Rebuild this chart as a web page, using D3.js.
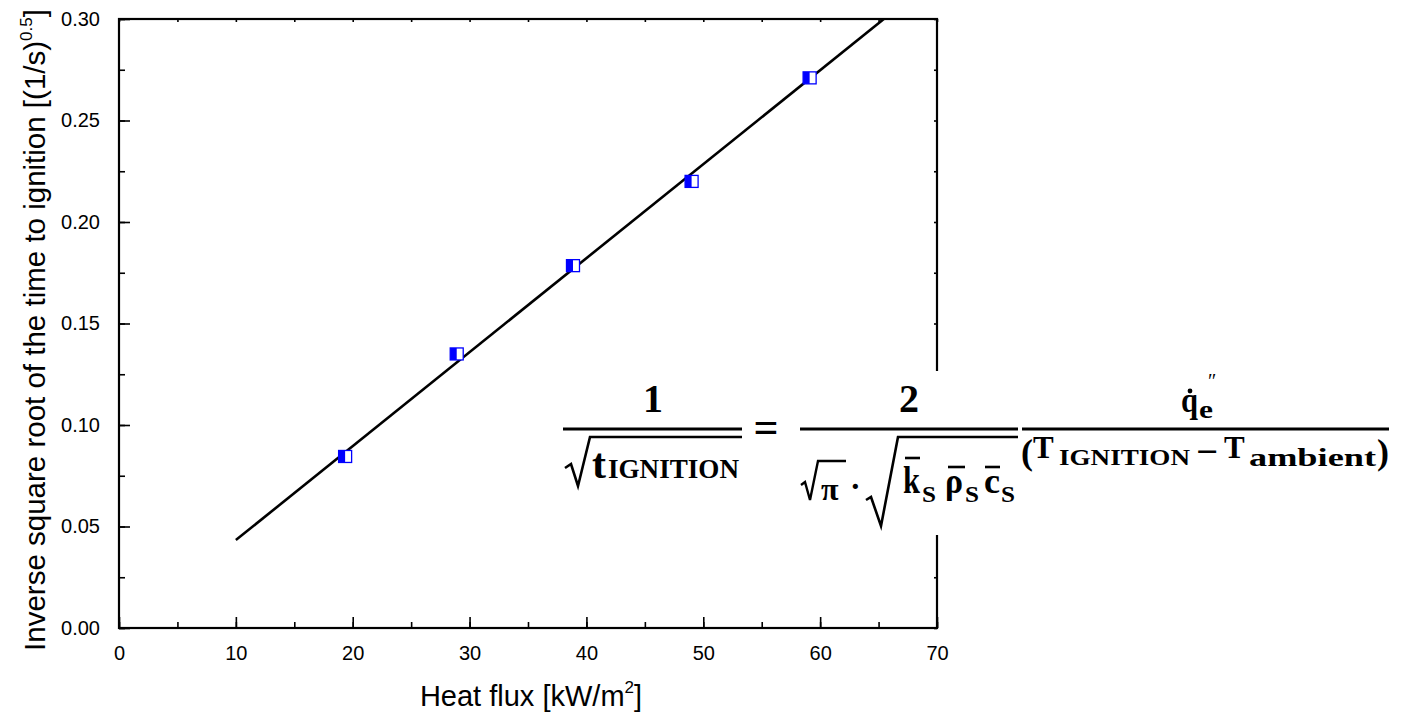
<!DOCTYPE html>
<html><head><meta charset="utf-8">
<script src="https://cdn.jsdelivr.net/npm/d3@7"></script>
<style>
html,body{margin:0;padding:0;background:#fff;}
svg{display:block;}
</style></head>
<body>
<svg id="chart" width="1402" height="716"></svg>
<script>
// ---- data ----
const heatFlux = [19.35, 28.9, 38.85, 49.0, 59.1];
const invSqrtTig = [0.0845, 0.1350, 0.1785, 0.2200, 0.2710];
const fitX = [10, 65.45];
const fitY = [0.0433, 0.300];
const xTickValues = [0, 10, 20, 30, 40, 50, 60, 70];
const yTickValues = [0, 0.05, 0.10, 0.15, 0.20, 0.25, 0.30];
const xMinorValues = [0,5,10,15,20,25,30,35,40,45,50,55,60,65,70];
const yMinorValues = [0,0.025,0.05,0.075,0.1,0.125,0.15,0.175,0.2,0.225,0.25,0.275,0.3];
const xTitle = "Heat flux [kW/m";
const yTitle = "Inverse square root of the time to ignition [(1/s)";

const svg = d3.select("#chart");
const L = 119, R = 937, T = 19, B = 628;
const x = d3.scaleLinear().domain([0, 70]).range([L, R]);
const y = d3.scaleLinear().domain([0, 0.30]).range([B, T]);
const font = "'Liberation Sans', Arial, sans-serif";

// fit line
svg.append("path")
  .datum(fitX.map((v, i) => [v, fitY[i]]))
  .attr("d", d3.line().x(d => x(d[0])).y(d => y(d[1])))
  .attr("fill", "none").attr("stroke", "#000").attr("stroke-width", 2.6);

// markers
const mk = svg.append("g");
heatFlux.forEach((v, i) => {
  const cx = x(v), cy = y(invSqrtTig[i]);
  mk.append("rect").attr("x", cx - 6.5).attr("y", cy - 6).attr("width", 13).attr("height", 12)
    .attr("fill", "#fff").attr("stroke", "#0000ff").attr("stroke-width", 1.3);
  mk.append("rect").attr("x", cx - 6.5).attr("y", cy - 6).attr("width", 6.5).attr("height", 12)
    .attr("fill", "#0000ff");
});

// axes
function styleAxis(g){ g.select(".domain").remove(); g.selectAll("line").attr("stroke","#000").attr("stroke-width",1.6); }
svg.append("g").attr("transform", `translate(0,${B})`)
  .call(d3.axisBottom(x).tickValues(xMinorValues).tickSize(-6).tickFormat(""))
  .call(styleAxis);
svg.append("g").attr("transform", `translate(0,${B})`)
  .call(d3.axisBottom(x).tickValues(xTickValues).tickSize(-11).tickPadding(18).tickFormat(d3.format("d")))
  .call(styleAxis)
  .call(g => g.selectAll("text").attr("font-family", font).attr("font-size", 20).attr("fill","#000"));
svg.append("g").attr("transform", `translate(${L},0)`)
  .call(d3.axisLeft(y).tickValues(yMinorValues).tickSize(-6).tickFormat(""))
  .call(styleAxis);
svg.append("g").attr("transform", `translate(${L},0)`)
  .call(d3.axisLeft(y).tickValues(yTickValues).tickSize(-11).tickPadding(19).tickFormat(d3.format(".2f")))
  .call(styleAxis)
  .call(g => g.selectAll("text").attr("font-family", font).attr("font-size", 20).attr("fill","#000"));
svg.append("g").attr("transform", `translate(0,${T})`)
  .call(d3.axisTop(x).tickValues(xMinorValues).tickSize(-3).tickFormat(""))
  .call(styleAxis);
svg.append("g").attr("transform", `translate(${R},0)`)
  .call(d3.axisRight(y).tickValues(yMinorValues).tickSize(-3).tickFormat(""))
  .call(styleAxis);
svg.append("rect").attr("x", L).attr("y", T).attr("width", R - L).attr("height", B - T)
  .attr("fill", "none").attr("stroke", "#000").attr("stroke-width", 2.2);

// titles
const xt = svg.append("text").attr("x", 531).attr("y", 706).attr("text-anchor", "middle")
  .attr("font-family", font).attr("font-size", 29).attr("fill", "#000");
xt.append("tspan").text(xTitle);
xt.append("tspan").attr("font-size", 17).attr("dy", -13).text("2");
xt.append("tspan").attr("dy", 13).text("]");

const yt = svg.append("text").attr("transform", "translate(45,330) rotate(-90)").attr("text-anchor", "middle")
  .attr("font-family", font).attr("font-size", 29.5).attr("fill", "#000");
yt.append("tspan").text(yTitle);
yt.append("tspan").attr("font-size", 17).attr("dy", -13).text("0.5");
yt.append("tspan").attr("dy", 13).text("]");

// ---- formula overlay ----
const fm = svg.append("g");
fm.append("rect").attr("x", 556).attr("y", 371).attr("width", 846).attr("height", 164).attr("fill", "#fff");
const ff = "'Liberation Serif', 'Times New Roman', serif";
function t(txt, xx, yy, size, opts = {}) {
  const e = fm.append("text").attr("x", xx).attr("y", yy).attr("font-family", ff)
    .attr("font-weight", opts.normal ? "normal" : "bold").attr("font-size", size).attr("fill", "#000").text(txt);
  if (opts.anchor) e.attr("text-anchor", opts.anchor);
  if (opts.len) e.attr("textLength", opts.len).attr("lengthAdjust", "spacingAndGlyphs");
  return e;
}
function ln(d, w) { fm.append("path").attr("d", d).attr("fill", "none").attr("stroke", "#000").attr("stroke-width", w || 2.6); }

// fraction 1
t("1", 653, 412, 40, {anchor: "middle"});
ln("M563,429 L742,429", 3.2);
ln("M565,468 L571,464 L578,486 L590,437 L742,437", 2.6);
t("t", 592, 478, 42);
t("IGNITION", 608, 478, 27, {len: 131});
// equals
t("=", 766, 442, 44, {anchor: "middle"});
// fraction 2
t("2", 909, 412, 40, {anchor: "middle"});
ln("M800,429 L1018,429", 3.2);
ln("M801,485 L805,482 L810,500 L818,461 L846,461", 2.4);
t("π", 821, 500, 32);
t("·", 850, 497, 32);
ln("M866,500 L871,497 L881,526 L898,437 L1018,437", 2.6);
t("k", 903, 493, 38, {len: 17});
ln("M905,458 L920,458", 2.6);
t("S", 922, 502, 24, {len: 14});
t("ρ", 945, 493, 36, {len: 18});
ln("M948,467 L965,467", 2.6);
t("S", 965, 502, 24, {len: 14});
t("c", 984, 493, 36, {len: 16});
ln("M985,467 L1000,467", 2.6);
t("S", 1001, 502, 24, {len: 14});
// fraction 3
t("q", 1181, 412, 36, {len: 17});
fm.append("circle").attr("cx", 1190).attr("cy", 391).attr("r", 2.4).attr("fill", "#000");
t("e", 1199, 418, 25, {len: 14});
t("″", 1208, 388, 20, {normal: true});
ln("M1022,429 L1389,429", 3.2);
t("(", 1021, 464, 36);
t("T", 1033, 458, 31);
t("IGNITION", 1059, 465, 23, {len: 131});
t("−", 1196, 463, 34, {len: 22});
t("T", 1224, 458, 31);
t("ambient", 1249, 466, 26, {len: 127});
t(")", 1377, 464, 36);
</script>
</body></html>
